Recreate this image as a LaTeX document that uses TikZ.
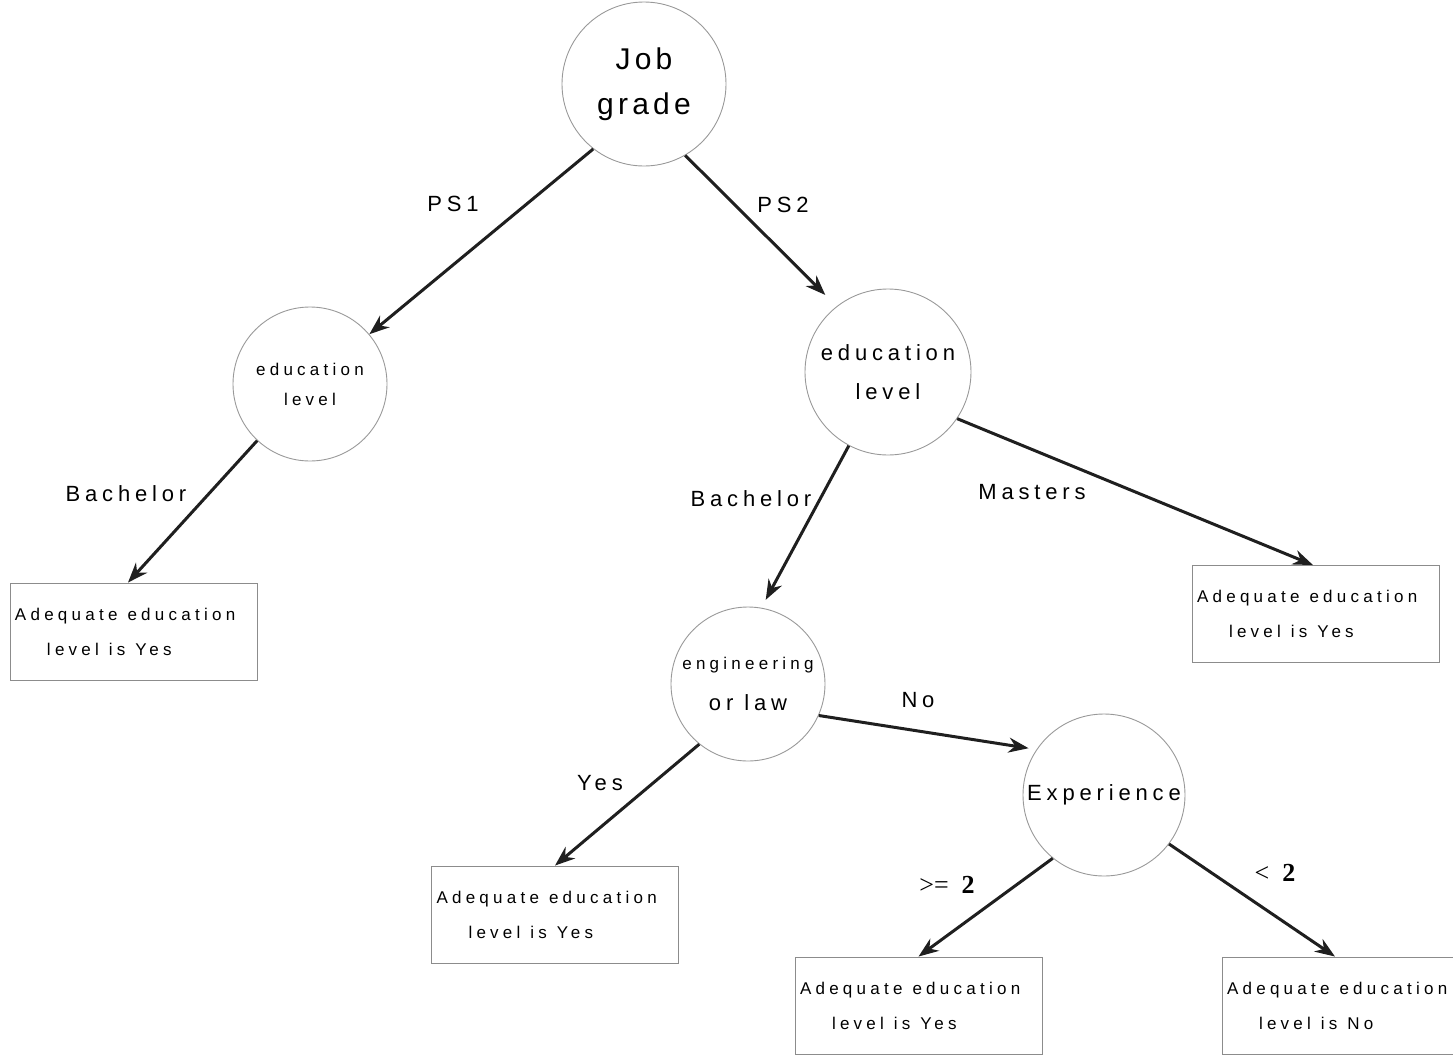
\documentclass[tikz,border=0pt]{standalone}
\usepackage{fontspec}
\usetikzlibrary{arrows.meta}
\newfontfamily\sansbig[LetterSpace=14]{Liberation Sans}
\newfontfamily\sansmid[LetterSpace=22]{Liberation Sans}
\newfontfamily\sanssmall[LetterSpace=25]{Liberation Sans}
\newfontfamily\serifrm{Liberation Serif}
\newcommand{\bigf}{\sansbig\fontsize{15}{22.5}\selectfont}
\newcommand{\midf}{\sansmid\fontsize{11}{19.5}\selectfont}
\newcommand{\smallf}{\sanssmall\fontsize{8.5}{15}\selectfont}
\newcommand{\boxf}{\sanssmall\fontsize{8.5}{17.5}\selectfont}
% explicit word gap for the tracked small type
\newcommand{\wg}{\hspace{5pt}}
\begin{document}
\begin{tikzpicture}[x=0.5pt,y=-0.5pt,
  decision/.style={circle,draw=black!40,line width=0.45pt,inner sep=0pt,align=center},
  leaf/.style={rectangle,draw=black!45,line width=0.45pt,minimum width=123.5pt,
    minimum height=48.5pt,text width=118.5pt,inner xsep=2.5pt,align=left,font=\boxf},
  branch/.style={draw=black!88,line width=1.5pt,-{Stealth[length=10pt,width=7.5pt]}},
  lbl/.style={font=\midf,inner sep=0pt},
  cmp/.style={font=\serifrm\fontsize{13}{15}\selectfont,inner sep=0pt}]
\useasboundingbox (0,0) rectangle (1453,1055);

% decision nodes
\node[decision,minimum size=82pt,font=\bigf] (job) at (644,84) {Job\\grade};
\node[decision,minimum size=77pt,font=\smallf] (edL) at (310,384) {education\\level};
\node[decision,minimum size=83pt,font=\midf] (edR) at (888,372) {education\\level};
\node[decision,minimum size=77pt,font=\sansmid\fontsize{11}{20.5}\selectfont] (eng) at (748,684)
  {{\smallf engineering}\\or law};
\node[decision,minimum size=81pt,font=\midf] (exp) at (1104,795) {Experience};

% leaf boxes
\node[leaf] (boxL) at (133.5,631.5) {Adequate\wg education\\\hspace*{16pt}level\wg is\wg Yes};
\node[leaf] (boxR) at (1315.5,614) {Adequate\wg education\\\hspace*{16pt}level\wg is\wg Yes};
\node[leaf] (boxM) at (555,914.5) {Adequate\wg education\\\hspace*{16pt}level\wg is\wg Yes};
\node[leaf] (boxBM) at (918.5,1005.5) {Adequate\wg education\\\hspace*{16pt}level\wg is\wg Yes};
\node[leaf] (boxBR) at (1345.5,1005.5) {Adequate\wg education\\\hspace*{16pt}level\wg is\wg No};

% branches
\draw[branch] (job.232) -- (edL.40);
\draw[branch,shorten >=8pt] (job.300) -- (edR.128);
\draw[branch] (edL.227) -- ([xshift=-2.75pt]boxL.north);
\draw[branch,shorten >=4.5pt] (edR.242) -- (eng.80);
\draw[branch] (edR.326) -- ([xshift=-1.25pt]boxR.north);
\draw[branch] (eng.231) -- (boxM.north);
\draw[branch,shorten >=4pt] (eng.336) -- (exp.146);
\draw[branch] (exp.231) -- (boxBM.north);
\draw[branch] (exp.323) -- ([xshift=-5.25pt]boxBR.north);

% branch labels
\node[lbl] (lPS1) at (453,204) {PS1};
\node[lbl] (lPS2) at (783,205) {PS2};
\node[lbl] (lBachL) at (126,494) {Bachelor};
\node[lbl] (lBachR) at (751,499) {Bachelor};
\node[lbl] (lMast) at (1032,492) {Masters};
\node[lbl] (lYes) at (600,783) {Yes};
\node[lbl] (lNo) at (918,700) {No};
\node[cmp] (lGe) at (947,885) {>=\ \ \textbf{2}};
\node[cmp] (lLt) at (1275,873) {<\ \ \textbf{2}};
\end{tikzpicture}
\end{document}
